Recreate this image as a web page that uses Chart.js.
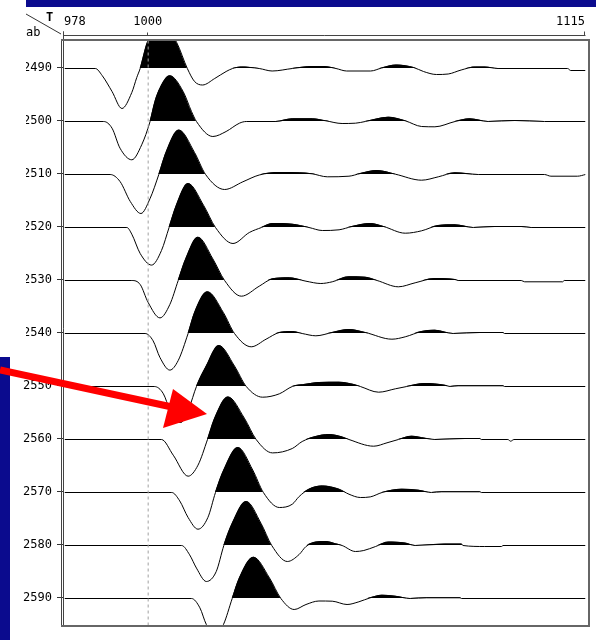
<!DOCTYPE html>
<html>
<head>
<meta charset="utf-8">
<script src="https://cdn.jsdelivr.net/npm/chart.js@4.4.1/dist/chart.umd.min.js"></script>
<style>
  html, body { margin: 0; padding: 0; background: #fff; }
</style>
</head>
<body>
<canvas id="seis" width="596" height="640"></canvas>
<script>
// trace offsets (tick labels on the left) and time ticks on top
const traceOffsets = [2490, 2500, 2510, 2520, 2530, 2540, 2550, 2560, 2570, 2580, 2590];
const xTicks = [978, 1000, 1115];

// each trace: sample times and amplitudes (positive = filled black lobe)
const time2490 = [978, 986.1, 987.9, 990.5, 993.1, 995.7, 997.0, 997.9, 999.8, 1003.6, 1007.5, 1010.3, 1012.2, 1014.3, 1017.5, 1020.5, 1022.2, 1024.5, 1029.2, 1032.6, 1037.9, 1043.1, 1046.2, 1049.4, 1052.2, 1058.5, 1061.4, 1065.3, 1069.8, 1072.4, 1075.8, 1078.9, 1082.3, 1086.0, 1088.6, 1092.0, 1110.3, 1111.1, 1115];
const amp2490 = [0, 0, -7, -23, -40, -24, -9, 0, 26, 46, 26, 0, -13, -16.5, -10, -3, 0, 1.5, 0, -2.5, 0, 2, 2, 0, -2.5, -2.5, 0.5, 3.5, 1, -3, -6, -5.5, -1.5, 1.5, 1.5, 0, 0, -2, -2];

const time2500 = [978, 988.3, 990.5, 992.6, 995.7, 998.3, 1000.5, 1001.8, 1003.1, 1005.7, 1009.2, 1011.4, 1012.7, 1017.0, 1020.5, 1024.0, 1025.8, 1033.6, 1037.9, 1043.2, 1046.7, 1051.0, 1054.5, 1057.1, 1063.2, 1067.6, 1071.9, 1075.4, 1080.7, 1084.6, 1089.4, 1096.4, 1104.2, 1115];
const amp2500 = [0, 0, -6.7, -26.7, -38.3, -23.3, 0, 20, 33, 45.7, 30, 10, 0, -15, -10, -1.7, 0, 0, 2.7, 2.7, 0.7, -2, -1.7, 0, 4.3, 0.7, -5, -5.3, 0, 2.7, 0, 1, 0, 0];

const time2510 = [978, 990.0, 992.6, 995.3, 998.1, 1000.5, 1002.8, 1004.7, 1008.1, 1012.2, 1015.1, 1020.1, 1024.9, 1029.2, 1034.5, 1039.7, 1043.1, 1047.1, 1052.8, 1055.8, 1060.2, 1065.0, 1071.9, 1076.3, 1080.7, 1086.8, 1104.2, 1105.9, 1112.9, 1115];
const amp2510 = [0, 0, -7, -27, -39, -24, 0, 22, 44.4, 22, 0, -15, -7.3, -0.5, 2, 1.7, 0.7, -2.3, -1.7, 1, 4, 0.3, -5.7, -2.3, 1.7, 0, 0, -1.7, -1.7, 0];

const time2520 = [978, 994.4, 995.7, 997.9, 1000.9, 1003.5, 1005.5, 1007.4, 1010.5, 1014.6, 1017.7, 1022.3, 1026.6, 1029.8, 1032.7, 1037.9, 1042.3, 1045.8, 1050.2, 1053.6, 1058.4, 1061.9, 1067.6, 1071.9, 1076.3, 1080.7, 1085.5, 1091.1, 1098.1, 1100.7, 1115];
const amp2520 = [0, 0, -6.7, -26, -37.6, -23, 0, 22, 44, 22, 0, -16, -5, 0, 4, 3.3, 0, -3, -2.3, 1, 4, 1, -5.7, -3.3, 2, 2.7, 0, 1, 1, 0, 0];

const time2530 = [978, 995.7, 997.9, 1000.0, 1003.1, 1005.7, 1007.9, 1009.9, 1013.1, 1017.0, 1020.1, 1024.5, 1029.2, 1032.7, 1037.1, 1041.5, 1045.4, 1048.4, 1052.8, 1057.1, 1060.2, 1065.8, 1070.2, 1075.4, 1080.7, 1081.5, 1098.1, 1099.0, 1109.0, 1109.4, 1115];
const amp2530 = [0, 0, -4, -22, -37.4, -24, 0, 21.7, 43.3, 21.7, 0, -15.7, -5.7, 1.7, 2.7, -0.7, -3, -1.3, 3.7, 3.3, 0, -6.3, -2.3, 2, 1, 0, 0, -1.3, -1.3, 0, 0];

const time2540 = [978, 999.2, 1001.3, 1003.1, 1005.7, 1007.9, 1010.5, 1012.2, 1015.6, 1019.8, 1022.7, 1027.1, 1031.0, 1034.5, 1037.9, 1040.5, 1044.1, 1048.4, 1052.8, 1057.1, 1064.1, 1067.6, 1071.9, 1075.4, 1080.2, 1087.2, 1093.3, 1093.7, 1115];
const amp2540 = [0, 0, -7.3, -24, -36.6, -27, 0, 20.8, 41.7, 20.8, 0, -13.3, -5.7, 1, 2, 0, -2.3, 1, 4, 1, -5.7, -3.3, 2, 3.3, 0, 1, 1, 0, 0];

const time2550 = [978, 1001.6, 1004.0, 1005.7, 1006.6, 1008.6, 1010.7, 1012.7, 1015.3, 1018.6, 1022.7, 1025.8, 1030.1, 1034.5, 1037.9, 1041.5, 1044.9, 1050.2, 1054.1, 1055.8, 1060.6, 1065.0, 1068.0, 1072.8, 1078.0, 1079.4, 1081.5, 1093.3, 1093.7, 1115];
const amp2550 = [0, 0, -7.3, -24, -32, -36, -22, 0, 20.5, 41, 20.5, 0, -10.7, -7.3, 0, 2.3, 4, 4.3, 2, 0, -5.7, -2.3, 0, 3, 1.3, 0, 0.7, 0.7, 0, 0];

const time2560 = [978, 1003.5, 1006.6, 1010.5, 1013.1, 1015.6, 1017.5, 1021.0, 1025.3, 1028.4, 1032.7, 1037.9, 1040.5, 1044.1, 1047.5, 1051.0, 1052.8, 1059.3, 1062.8, 1065.8, 1069.3, 1072.8, 1075.4, 1083.3, 1087.2, 1087.6, 1094.6, 1095.3, 1096.2, 1115];
const amp2560 = [0, 0, -15.7, -36.7, -25.7, 0, 21.3, 42.6, 21.3, 0, -13.4, -9, -2, 3, 5, 2.6, 0, -6.7, -3.3, 0, 3.3, 1.3, 0, 1, 1, 0, 0, -1.7, 0, 0];

const time2570 = [978, 1006.2, 1008.3, 1010.5, 1013.1, 1015.7, 1017.7, 1019.9, 1023.6, 1027.5, 1030.3, 1034.5, 1037.9, 1039.7, 1042.3, 1045.8, 1050.2, 1052.8, 1055.8, 1058.4, 1061.5, 1066.7, 1071.1, 1074.5, 1077.2, 1087.2, 1087.6, 1115];
const amp2570 = [0, 0, -8.4, -25, -36.7, -25, 0, 22.5, 45, 22.5, 0, -15, -11.7, -4, 3.3, 6.6, 3.3, -1.7, -5, -4.4, 0, 3.3, 2.3, 0, 0.7, 0.7, 0, 0];

const time2580 = [978, 1008.8, 1010.9, 1012.7, 1015.3, 1017.9, 1019.9, 1022.1, 1025.8, 1029.7, 1032.5, 1036.6, 1039.7, 1041.5, 1044.1, 1046.7, 1049.3, 1051.0, 1054.5, 1056.7, 1059.8, 1063.2, 1067.6, 1070.2, 1078.0, 1082.4, 1082.8, 1088.5, 1092.9, 1093.3, 1115];
const amp2580 = [0, 0, -9.3, -22.6, -36, -26, 0, 22, 44, 22, 0, -16, -9, -1, 3.4, 4, 1.7, 0, -6, -5, -1, 3.4, 2.4, 0, 1.4, 1.4, 0, -1, -1, 0, 0];

const time2590 = [978, 1011.4, 1013.6, 1015.3, 1017.7, 1019.8, 1022.1, 1024.0, 1027.7, 1031.9, 1034.9, 1038.4, 1041.5, 1044.9, 1048.4, 1052.3, 1055.4, 1058.4, 1061.5, 1065.0, 1068.9, 1073.2, 1082.0, 1082.4, 1115];
const amp2590 = [0, 0, -9.3, -26, -37, -26, 0, 20.6, 41.3, 20.6, 0, -11, -6, -2.5, -2.7, -6, -3.3, 0.7, 3.3, 2.3, 0, 0.7, 0.7, 0, 0];

const traceTimes = [time2490, time2500, time2510, time2520, time2530, time2540, time2550, time2560, time2570, time2580, time2590];
const traceAmps = [amp2490, amp2500, amp2510, amp2520, amp2530, amp2540, amp2550, amp2560, amp2570, amp2580, amp2590];

// wiggle gain: amplitude units -> trace offset units (53 px per 10)
const GAIN = 10 / 53;
const Y_MIN = 2490 - 28 / 5.3;
const Y_MAX = Y_MIN + 585 / 5.3;
const MONO = '"DejaVu Sans Mono", monospace';

const traceSets = traceOffsets.map((off, i) => ({
  label: String(off),
  data: traceTimes[i].map((t, j) => ({ x: t, y: off - traceAmps[i][j] * GAIN })),
  borderColor: '#000',
  borderWidth: 1,
  pointRadius: 0,
  cubicInterpolationMode: 'monotone',
  fill: { target: { value: off }, above: '#000', below: 'rgba(0,0,0,0)' },
}));

// dashed reference line at the 1000 tick
const refLine = {
  label: 'ref',
  data: [{ x: 1000, y: Y_MIN }, { x: 1000, y: Y_MAX }],
  borderColor: '#a0a0a0',
  borderWidth: 1,
  borderDash: [3, 3],
  pointRadius: 0,
  fill: false,
};

// nudge the stroked wiggles half a pixel so flat parts stay crisp
const crisp = {
  id: 'crisp',
  beforeDatasetDraw(chart) {
    chart.ctx.save();
    chart.ctx.translate(0.5, 0.5);
  },
  afterDatasetDraw(chart) {
    chart.ctx.restore();
  },
};

const decor = {
  id: 'decor',
  beforeDraw(chart) {
    const { ctx } = chart;
    ctx.save();
    ctx.fillStyle = '#fff';
    ctx.fillRect(0, 0, chart.width, chart.height);
    ctx.restore();
  },
  afterDraw(chart) {
    const { ctx, chartArea: a, scales } = chart;
    const x = scales.x;
    ctx.save();

    // hide the clipped left edge of the upper labels
    ctx.fillStyle = '#fff';
    ctx.fillRect(0, 8, 26, 347);

    // top time axis line and ticks
    ctx.strokeStyle = '#444';
    ctx.lineWidth = 1;
    ctx.beginPath();
    ctx.moveTo(a.left - 1, 35.5);
    ctx.lineTo(a.right + 0.5, 35.5);
    xTicks.forEach((v) => {
      const px = Math.round(x.getPixelForValue(v)) - 0.5;
      ctx.moveTo(px, v === 1000 ? 32.5 : 31.5);
      ctx.lineTo(px, 35.5);
    });
    // double left frame line
    ctx.moveTo(61.5, a.top);
    ctx.lineTo(61.5, a.bottom);
    ctx.moveTo(a.left - 0.5, 31.5);
    ctx.lineTo(a.left - 0.5, a.bottom);
    ctx.stroke();

    // plot box
    ctx.strokeStyle = '#666';
    ctx.lineWidth = 2;
    ctx.beginPath();
    ctx.moveTo(61, a.top);
    ctx.lineTo(a.right + 4, a.top);
    ctx.lineTo(a.right + 4, a.bottom + 1);
    ctx.lineTo(61, a.bottom + 1);
    ctx.stroke();

    // corner header
    ctx.strokeStyle = '#333';
    ctx.lineWidth = 1;
    ctx.beginPath();
    ctx.moveTo(26, 14);
    ctx.lineTo(61, 34);
    ctx.stroke();
    ctx.fillStyle = '#000';
    ctx.textBaseline = 'alphabetic';
    ctx.font = 'bold 12px ' + MONO;
    ctx.fillText('T', 46, 21);
    ctx.font = '12px ' + MONO;
    ctx.fillText('ab', 26, 36);

    // navy bars
    ctx.fillStyle = '#0b0b8e';
    ctx.fillRect(26, 0, chart.width - 26, 7);
    ctx.fillRect(0, 357, 10, chart.height - 357);

    // red arrow
    ctx.strokeStyle = '#ff0000';
    ctx.fillStyle = '#ff0000';
    ctx.lineWidth = 7;
    ctx.beginPath();
    ctx.moveTo(0, 370);
    ctx.lineTo(172, 407);
    ctx.stroke();
    ctx.beginPath();
    ctx.moveTo(207, 414);
    ctx.lineTo(173, 389);
    ctx.lineTo(163, 428);
    ctx.closePath();
    ctx.fill();

    ctx.restore();
  },
};

new Chart(document.getElementById('seis'), {
  type: 'line',
  data: { datasets: [refLine, ...traceSets] },
  options: {
    responsive: false,
    animation: false,
    events: [],
    layout: { padding: { left: 0, top: 0, right: 8, bottom: 15 } },
    plugins: {
      legend: { display: false },
      tooltip: { enabled: false },
    },
    scales: {
      x: {
        type: 'linear',
        position: 'top',
        min: 978,
        max: 1115,
        afterBuildTicks: (s) => { s.ticks = xTicks.map((v) => ({ value: v })); },
        afterFit: (s) => { s.height = 40; },
        grid: { display: false, drawTicks: false },
        border: { display: false },
        ticks: {
          align: 'inner',
          padding: 11,
          maxRotation: 0,
          color: '#000',
          font: { family: MONO, size: 12 },
          callback: (v) => String(v),
        },
      },
      y: {
        type: 'linear',
        reverse: true,
        min: Y_MIN,
        max: Y_MAX,
        afterBuildTicks: (s) => { s.ticks = traceOffsets.map((v) => ({ value: v })); },
        afterFit: (s) => { s.width = 64; },
        grid: { drawOnChartArea: false, drawTicks: true, tickLength: 7, color: '#333' },
        border: { display: false },
        ticks: {
          padding: 5,
          color: '#000',
          font: { family: MONO, size: 12 },
          callback: (v) => String(v),
        },
      },
    },
  },
  plugins: [crisp, decor],
});
</script>
</body>
</html>
